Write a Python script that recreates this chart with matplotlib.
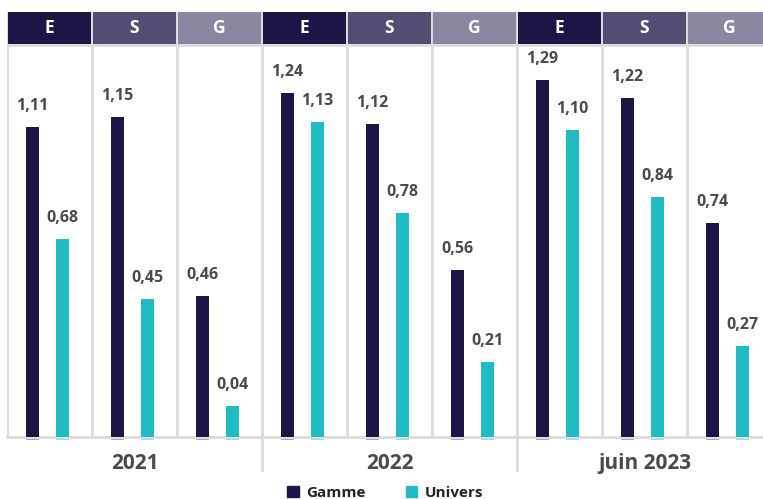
import numpy as np
import matplotlib.pyplot as plt
from matplotlib.patches import Patch

plt.rcParams['font.family'] = ['Open Sans', 'DejaVu Sans']

# data
years = ['2021', '2022', 'juin 2023']
pillars = ['E', 'S', 'G', 'E', 'S', 'G', 'E', 'S', 'G']
gamme = [1.11, 1.15, 0.46, 1.24, 1.12, 0.56, 1.29, 1.22, 0.74]
univers = [0.68, 0.45, 0.04, 1.13, 0.78, 0.21, 1.10, 0.84, 0.27]
gamme_lbl = ['1,11', '1,15', '0,46', '1,24', '1,12', '0,56', '1,29', '1,22', '0,74']
univers_lbl = ['0,68', '0,45', '0,04', '1,13', '0,78', '0,21', '1,10', '0,84', '0,27']

navy = '#1e1446'
teal = '#20bcc2'
head_cols = {'E': '#1e1446', 'S': '#544c72', 'G': '#8b87a2'}
sep = '#dddddd'
txt = '#4a4a4a'

W, H = 763, 499
fig = plt.figure(figsize=(W / 100, H / 100), dpi=100)

ymin, ymax = -0.079, 1.417
x = np.arange(len(gamme))
off_g, off_u, bw = -0.2, 0.153, 0.153

# main chart (last group runs past the right edge, as in the original)
ax = fig.add_axes([7 / W, (H - 437) / H, 765 / W, 390 / H])
ax.set_xlim(-0.5, 8.5)
ax.set_ylim(ymin, ymax)
ax.bar(x + off_g, np.array(gamme) - ymin, bottom=ymin, width=bw, color=navy, zorder=3)
ax.bar(x + off_u, np.array(univers) - ymin, bottom=ymin, width=bw, color=teal, zorder=3)
# little stubs under the bars
ax.bar(x + off_g, 0.012, bottom=ymin - 0.012, width=bw, color='#a9a5b9', clip_on=False)
ax.bar(x + off_u, 0.012, bottom=ymin - 0.012, width=bw, color='#a6dcdf', clip_on=False)

for i in range(len(x)):
    ax.text(x[i] + off_g, gamme[i] + 0.05, gamme_lbl[i], ha='center', va='bottom',
            fontsize=11.5, fontweight='bold', color=txt)
    ax.text(x[i] + off_u, univers[i] + 0.05, univers_lbl[i], ha='center', va='bottom',
            fontsize=11.5, fontweight='bold', color=txt)

for xs in np.arange(-0.5, 9, 1):
    ax.axvline(xs, color=sep, lw=2.2, zorder=1)
ax.axhline(ymin, color=sep, lw=2.2, zorder=2, clip_on=False)

for s in ax.spines.values():
    s.set_visible(False)
ax.set_xticks([])
ax.set_yticks([])

# year separators and labels
for xs in [2.5, 5.5]:
    ax.plot([xs, xs], [ymin, ymin - 0.125], color=sep, lw=2.2, clip_on=False)
for i, yr in enumerate(years):
    ax.text(1 + 3 * i, ymin - 0.1, yr, ha='center', va='center',
            fontsize=15, fontweight='bold', color=txt)

# header boxes
hx = fig.add_axes([7 / W, (H - 47) / H, 765 / W, 35 / H])
hx.set_facecolor(sep)
hx.set_xlim(-0.5, 8.5)
hx.set_ylim(0, 1)
hx.bar(x, 0.89, bottom=0.1, width=0.965, color=[head_cols[p] for p in pillars])
for i, p in enumerate(pillars):
    hx.text(x[i], 0.53, p, ha='center', va='center', color='white',
            fontsize=12.5, fontweight='bold')
for s in hx.spines.values():
    s.set_visible(False)
hx.set_xticks([])
hx.set_yticks([])

# legend
handles = [Patch(color=navy, label='Gamme'), Patch(color=teal, label='Univers')]
leg = fig.legend(handles=handles, loc='lower center', bbox_to_anchor=(0.505, -0.03), ncol=2,
                 frameon=False, handlelength=0.75, handleheight=0.75, columnspacing=2.6,
                 handletextpad=0.5, prop={'weight': 'bold', 'size': 11})
for t in leg.get_texts():
    t.set_color('#222222')

fig.savefig('out.png', dpi=100)
